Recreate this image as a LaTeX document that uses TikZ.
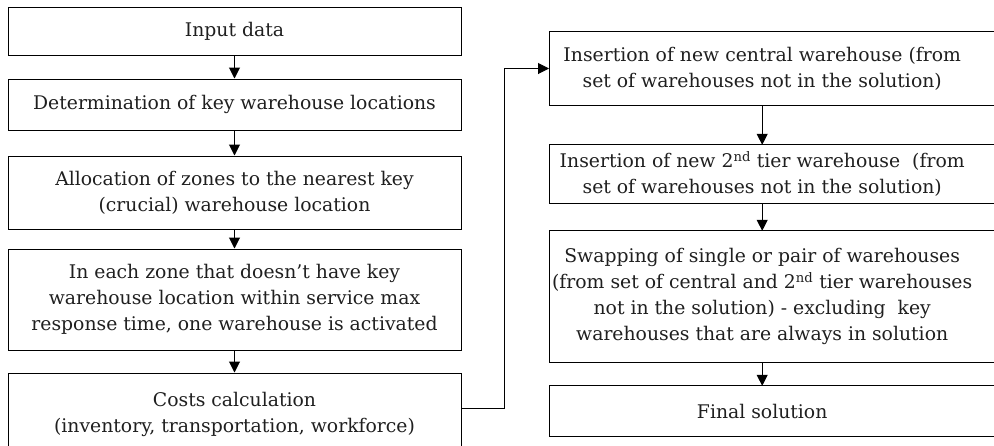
\documentclass[tikz,border=0pt]{standalone}
\usepackage{fontspec}
\setmainfont{DejaVu Serif}
\usepackage{tikz}
\usetikzlibrary{arrows.meta}

\begin{document}
\begin{tikzpicture}[x=1pt, y=-1pt,
  every node/.style={font=\fontsize{18.8}{26}\selectfont, text=black!88, align=center},
  leftbox/.style={draw, line width=1pt, minimum width=453pt, inner sep=0pt},
  rightbox/.style={anchor=west, minimum width=426pt, inner sep=0pt},
  arr/.style={-{Triangle[length=11pt, width=11pt]}, line width=1pt}]
\useasboundingbox (0,0) rectangle (994,445);
\clip (0,0) rectangle (994,445);
% left column
\node[leftbox, minimum height=48pt] (c1) at (234.5,31) {Input data};
\node[leftbox, minimum height=51pt] (c2) at (234.5,104.5) {Determination of key warehouse locations};
\node[leftbox, minimum height=73pt] (c3) at (234.5,192.5) {Allocation of zones to the nearest key\\(crucial) warehouse location};
\node[leftbox, minimum height=101pt] (c4) at (234.5,299.5) {In each zone that doesn't have key\\warehouse location within service max\\response time, one warehouse is activated};
\node[leftbox, minimum height=82pt] (c5) at (234.5,414) {Costs calculation\\(inventory, transportation, workforce)};
% right column
\node[rightbox, minimum height=73pt] (r1) at (549,68.5) {Insertion of new central warehouse (from\\set of warehouses not in the solution)};
\node[rightbox, minimum height=58pt] (r2) at (549,174) {Insertion of new 2\textsuperscript{nd} tier warehouse\ \ (from\\set of warehouses not in the solution)};
\node[rightbox, minimum height=131pt] (r3) at (549,296.5) {Swapping of single or pair of warehouses\\(from set of central and 2\textsuperscript{nd} tier warehouses\\not in the solution) - excluding\ \ key\\warehouses that are always in solution};
\node[rightbox, minimum height=50pt] (r4) at (549,411) {Final solution};
% open boxes on the right
\foreach \n in {r1,r2,r3,r4}
  \draw[line width=1pt] ([xshift=40pt]\n.north east) -- (\n.north west) -- (\n.south west) -- ([xshift=40pt]\n.south east);
% arrows
\draw[arr] (c1) -- (c2);
\draw[arr] (c2) -- (c3);
\draw[arr] (c3) -- (c4);
\draw[arr] (c4) -- (c5);
\draw[arr] ([yshift=6pt]c5.east) -- ++(43,0) |- (r1.west);
\draw[arr] (r1) -- (r2);
\draw[arr] (r2) -- (r3);
\draw[arr] (r3) -- (r4);
\end{tikzpicture}
\end{document}
